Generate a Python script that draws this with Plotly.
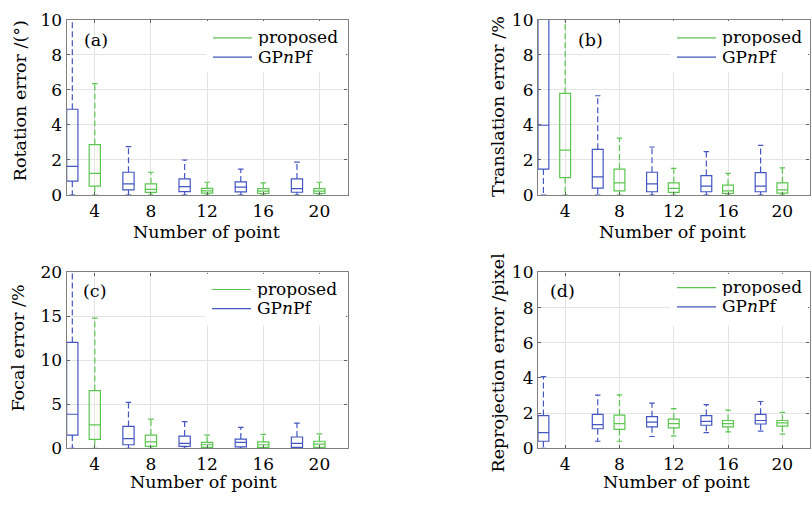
import plotly.graph_objects as go

W, H = 811, 506

groups = [4, 8, 12, 16, 20]
method_labels = ["proposed", "GP<i>n</i>Pf"]
method_colors = ["#5bc64f", "#4356c2"]
method_offsets = [0.0, -1.6]

# (a) Rotation error /(°)
rot_prop_lo = [0, 0, 0, 0, 0]
rot_prop_q1 = [0.51, 0.15, 0.11, 0.09, 0.09]
rot_prop_med = [1.24, 0.33, 0.24, 0.22, 0.22]
rot_prop_q3 = [2.88, 0.64, 0.38, 0.37, 0.37]
rot_prop_hi = [6.35, 1.30, 0.73, 0.70, 0.73]
rot_gp_lo = [0, 0, 0, 0, 0]
rot_gp_q1 = [0.79, 0.30, 0.20, 0.18, 0.16]
rot_gp_med = [1.64, 0.64, 0.48, 0.45, 0.37]
rot_gp_q3 = [4.89, 1.30, 0.92, 0.75, 0.92]
rot_gp_hi = [12.0, 2.76, 2.00, 1.48, 1.88]

# (b) Translation error /%
tra_prop_lo = [0, 0, 0, 0, 0]
tra_prop_q1 = [1.00, 0.24, 0.15, 0.09, 0.11]
tra_prop_med = [2.56, 0.70, 0.38, 0.24, 0.30]
tra_prop_q3 = [5.80, 1.48, 0.70, 0.57, 0.70]
tra_prop_hi = [12.0, 3.25, 1.52, 1.24, 1.55]
tra_gp_lo = [0, 0, 0, 0, 0]
tra_gp_q1 = [1.48, 0.40, 0.19, 0.19, 0.19]
tra_gp_med = [3.98, 1.04, 0.64, 0.51, 0.51]
tra_gp_q3 = [13.0, 2.61, 1.30, 1.11, 1.28]
tra_gp_hi = [20.0, 5.66, 2.74, 2.48, 2.83]

# (c) Focal error /%
foc_prop_lo = [0, 0, 0, 0, 0]
foc_prop_q1 = [1.02, 0.22, 0.11, 0.11, 0.11]
foc_prop_med = [2.66, 0.73, 0.40, 0.40, 0.47]
foc_prop_q3 = [6.57, 1.50, 0.66, 0.73, 0.80]
foc_prop_hi = [14.8, 3.32, 1.50, 1.57, 1.64]
foc_gp_lo = [0, 0, 0, 0, 0]
foc_gp_q1 = [1.50, 0.40, 0.22, 0.16, 0.11]
foc_gp_med = [3.87, 1.09, 0.55, 0.66, 0.55]
foc_gp_q3 = [12.04, 2.48, 1.39, 1.05, 1.28]
foc_gp_hi = [25.0, 5.22, 3.03, 2.37, 2.85]

# (d) Reprojection error /pixel  (proposed has no result for 4 points)
rep_prop_lo = [None, 0.40, 0.71, 0.93, 0.80]
rep_prop_q1 = [None, 1.07, 1.16, 1.22, 1.26]
rep_prop_med = [None, 1.40, 1.40, 1.40, 1.44]
rep_prop_q3 = [None, 1.89, 1.66, 1.58, 1.58]
rep_prop_hi = [None, 3.04, 2.26, 2.17, 2.04]
rep_gp_lo = [0, 0.40, 0.67, 0.89, 0.98]
rep_gp_q1 = [0.40, 1.11, 1.22, 1.31, 1.38]
rep_gp_med = [0.89, 1.35, 1.49, 1.53, 1.58]
rep_gp_q3 = [1.86, 1.93, 1.80, 1.86, 1.93]
rep_gp_hi = [4.08, 3.02, 2.57, 2.48, 2.66]

panel_tags = ["(a)", "(b)", "(c)", "(d)"]
y_titles = ["Rotation error /(°)", "Translation error /%", "Focal error /%", "Reprojection error /pixel"]
x_title = "Number of point"
y_ranges = [[0, 10], [0, 10], [0, 20], [0, 10]]
y_dticks = [2, 2, 5, 2]

panels = [
    [(rot_prop_lo, rot_prop_q1, rot_prop_med, rot_prop_q3, rot_prop_hi),
     (rot_gp_lo, rot_gp_q1, rot_gp_med, rot_gp_q3, rot_gp_hi)],
    [(tra_prop_lo, tra_prop_q1, tra_prop_med, tra_prop_q3, tra_prop_hi),
     (tra_gp_lo, tra_gp_q1, tra_gp_med, tra_gp_q3, tra_gp_hi)],
    [(foc_prop_lo, foc_prop_q1, foc_prop_med, foc_prop_q3, foc_prop_hi),
     (foc_gp_lo, foc_gp_q1, foc_gp_med, foc_gp_q3, foc_gp_hi)],
    [(rep_prop_lo, rep_prop_q1, rep_prop_med, rep_prop_q3, rep_prop_hi),
     (rep_gp_lo, rep_gp_q1, rep_gp_med, rep_gp_q3, rep_gp_hi)],
]

# layout geometry (pixels)
col_px = [(66.7, 347.5), (538.0, 809.5)]
row_px = [(10.0, 192.7), (273.3, 456.3)]
ytitle_pos = [(20, 95), (498, 101), (18.5, 352), (498, 367)]
xtitle_pos = [(206, 231.5), (672, 231), (204, 491), (676, 491)]
tag_pos = [(95.5, 31), (590.5, 31), (94, 293), (562, 293)]
legend_px = [(213, 29), (677, 29), (212, 291), (677, 289)]
LEG_GAP = 20

FONT = "DejaVu Serif"
BOXW = 0.8
CAPW = 0.4


def px(x):
    return x / W


def py(y):
    return 1 - y / H


fig = go.Figure()
shapes = []
annotations = []

for p in range(4):
    r, c = divmod(p, 2)
    sfx = "" if p == 0 else str(p + 1)
    xa, ya = "x" + sfx, "y" + sfx
    for m in range(2):
        lo, q1, med, q3, hi = panels[p][m]
        col = method_colors[m]
        idx = [i for i in range(len(groups)) if med[i] is not None]
        pos = [groups[i] + method_offsets[m] for i in idx]
        fig.add_trace(go.Box(
            x=pos, q1=[q1[i] for i in idx], median=[med[i] for i in idx],
            q3=[q3[i] for i in idx], lowerfence=[q1[i] for i in idx],
            upperfence=[q3[i] for i in idx], width=BOXW, whiskerwidth=0,
            boxpoints=False, line=dict(color=col, width=1.2),
            fillcolor="rgba(255,255,255,0)", showlegend=False,
            hoverinfo="skip", xaxis=xa, yaxis=ya))
        wx, wy, cx, cy = [], [], [], []
        for k, i in enumerate(idx):
            x0 = pos[k]
            wx += [x0, x0, None, x0, x0, None]
            wy += [q3[i], hi[i], None, q1[i], lo[i], None]
            cx += [x0 - CAPW / 2, x0 + CAPW / 2, None, x0 - CAPW / 2, x0 + CAPW / 2, None]
            cy += [hi[i], hi[i], None, lo[i], lo[i], None]
        fig.add_trace(go.Scatter(x=wx, y=wy, mode="lines",
                                 line=dict(color=col, width=1.2, dash="6px,3px"),
                                 showlegend=False, hoverinfo="skip", xaxis=xa, yaxis=ya))
        fig.add_trace(go.Scatter(x=cx, y=cy, mode="lines",
                                 line=dict(color=col, width=1.2),
                                 showlegend=False, hoverinfo="skip", xaxis=xa, yaxis=ya))

    x0p, x1p = col_px[c]
    y0p, y1p = row_px[r]
    axis_common = dict(showline=True, mirror="ticks", linecolor="#808080", linewidth=1.2,
                       showgrid=True, gridcolor="#e4e4e4", gridwidth=1, zeroline=False,
                       ticks="inside", ticklen=3, tickcolor="#606060", tickwidth=1,
                       tickfont=dict(family=FONT, size=17, color="black"))
    fig.update_layout(**{
        "xaxis" + sfx: dict(axis_common, domain=[px(x0p), px(x1p)], range=[2, 22],
                            tickvals=groups, ticktext=[str(g) for g in groups],
                            anchor=ya),
        "yaxis" + sfx: dict(axis_common, domain=[py(y1p), py(y0p)], range=y_ranges[p],
                            dtick=y_dticks[p], tick0=0, anchor=xa),
    })

    # legend background + keys
    lx, ly = legend_px[p]
    shapes.append(dict(type="rect", xref="paper", yref="paper", layer="above",
                       x0=px(lx - 7), x1=px(x1p - 1.5), y0=py(y0p + 1.5), y1=py(y0p + 55),
                       fillcolor="white", line=dict(width=0)))
    for m in range(2):
        dy = m * LEG_GAP
        shapes.append(dict(type="line", xref="paper", yref="paper", layer="above",
                           x0=px(lx), x1=px(lx + 39), y0=py(ly + dy), y1=py(ly + dy),
                           line=dict(color=method_colors[m], width=1.2)))
        annotations.append(dict(text=method_labels[m], xref="paper", yref="paper",
                                x=px(lx + 43), y=py(ly + dy - 1), xanchor="left", yanchor="middle",
                                height=LEG_GAP - 1, valign="middle",
                                showarrow=False, font=dict(family=FONT, size=17, color="black")))

    tx, ty = ytitle_pos[p]
    annotations.append(dict(text=y_titles[p], xref="paper", yref="paper", x=px(tx), y=py(ty),
                            textangle=-90, xanchor="center", yanchor="middle", showarrow=False,
                            font=dict(family=FONT, size=17.5, color="black")))
    tx, ty = xtitle_pos[p]
    annotations.append(dict(text=x_title, xref="paper", yref="paper", x=px(tx), y=py(ty),
                            xanchor="center", yanchor="middle", showarrow=False,
                            font=dict(family=FONT, size=17.5, color="black")))
    tx, ty = tag_pos[p]
    annotations.append(dict(text=panel_tags[p], xref="paper", yref="paper", x=px(tx), y=py(ty),
                            xanchor="center", yanchor="middle", showarrow=False,
                            font=dict(family=FONT, size=17.5, color="black")))

fig.update_layout(width=W, height=H, autosize=False, margin=dict(l=0, r=0, t=0, b=0),
                  paper_bgcolor="white", plot_bgcolor="white", showlegend=False,
                  shapes=shapes, annotations=annotations)

fig.write_html("out.html")
